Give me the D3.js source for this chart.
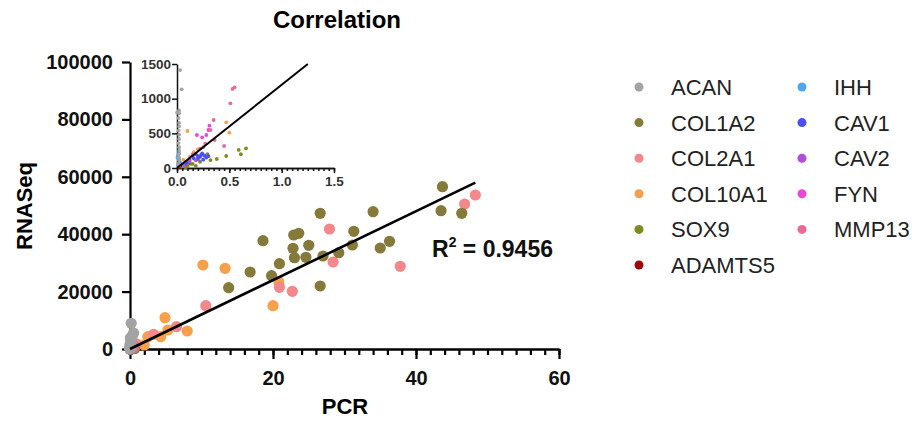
<!DOCTYPE html>
<html>
<head>
<meta charset="utf-8">
<script src="https://cdn.jsdelivr.net/npm/d3@7"></script>
<style>
  body { margin: 0; background: #fff; }
  text { font-family: "Liberation Sans", Arial, sans-serif; }
</style>
</head>
<body>
<svg id="chart" width="915" height="423"></svg>
<script>
// gene names and colours, legend order
var genes = ["ACAN", "COL1A2", "COL2A1", "COL10A1", "SOX9", "ADAMTS5", "IHH", "CAV1", "CAV2", "FYN", "MMP13"];
var colors = ["#a3a3a3", "#857a3a", "#f4878b", "#f7a04c", "#7f8a20", "#9b0a0a", "#4ea6f0", "#4b4ef0", "#b04fdc", "#e64ad8", "#e86a98"];

// [PCR, RNASeq] pairs
var acan = [[0.17, 8950], [0.5, 5570], [0.3, 4500], [0.05, 3830], [0.1, 2600], [0.02, 1800], [0.0, 800], [0.15, 2200],
    [0.03, 1413], [0.045, 1135], [0.02, 830], [0.02, 790], [0.015, 720], [0.02, 650], [0.02, 600], [0.015, 540],
    [0.02, 480], [0.02, 420], [0.015, 360], [0.02, 300], [0.02, 250], [0.015, 200], [0.02, 150], [0.02, 110], [0.01, 60], [0.02, 30]];
var col1a2 = [[43.7, 56550], [43.5, 48190], [46.4, 47280], [26.6, 47280], [34.0, 47840], [31.3, 41010], [31.1, 36240],
    [36.3, 37530], [35.0, 35190], [25.0, 36130], [24.6, 31950], [27.0, 32400], [29.2, 33550], [26.6, 21950],
    [23.6, 40310], [22.9, 39720], [22.8, 35090], [23.0, 31810], [18.6, 37740], [16.8, 26830], [13.8, 21360],
    [19.8, 25540], [20.9, 29720], [0.06, 40], [0.1, 20], [0.13, 60], [0.08, 10]];
var col2a1 = [[48.3, 53660], [46.8, 50520], [27.9, 41810], [28.4, 30310], [37.8, 28820], [20.9, 21500], [22.7, 20100],
    [10.6, 15090], [6.5, 7770], [3.3, 5120], [0.9, 1800], [0.12, 90], [0.2, 150]];
var col10a1 = [[10.2, 29270], [13.3, 28120], [20.0, 15090], [20.8, 23450], [4.9, 10900], [5.3, 6620], [8.0, 6270],
    [4.3, 4290], [2.5, 4290], [2.0, 1390], [0.10, 534], [0.47, 659], [0.50, 510], [0.16, 230], [0.2, 270],
    [0.06, 120], [0.12, 160], [0.09, 60]];
var sox9 = [[0.59, 260], [0.66, 284], [0.61, 198], [0.47, 173], [0.38, 130], [0.32, 115], [0.29, 200], [0.22, 90],
    [0.15, 60], [0.1, 40], [0.08, 20], [0.18, 30]];
var adamts5 = [[0.02, 10], [0.03, 25]];
var ihh = [[0.01, 180], [0.02, 120], [0.03, 80], [0.01, 40], [0.04, 20], [0.005, 150], [0.02, 210]];
var cav1 = [[0.15, 180], [0.18, 200], [0.2, 170], [0.22, 160], [0.24, 210], [0.26, 180], [0.28, 150], [0.3, 170],
    [0.12, 120], [0.16, 140], [0.2, 130], [0.25, 120], [0.1, 80], [0.08, 60], [0.23, 190]];
var cav2 = [[0.12, 100], [0.06, 40], [0.18, 110]];
var fyn = [[0.19, 476], [0.24, 443], [0.28, 476], [0.31, 610], [0.3, 548]];
var mmp13 = [[0.53, 1140], [0.55, 1164], [0.51, 933], [0.35, 692], [0.32, 548], [0.36, 404], [0.45, 317],
    [0.27, 350], [0.22, 280], [0.15, 200], [0.25, 300]];

var series = [acan, col1a2, col2a1, col10a1, sox9, adamts5, ihh, cav1, cav2, fyn, mmp13];
var drawOrder = [3, 2, 1, 4, 7, 8, 6, 9, 10, 5, 0];

// tick values
var xTicks = [0, 20, 40, 60];
var yTicks = [0, 20000, 40000, 60000, 80000, 100000];
var xInsetTicks = [0, 0.5, 1.0, 1.5];
var yInsetTicks = [0, 500, 1000, 1500];

var slope = 1200;      // fitted line
var fitEnd = 48.3;
var r2 = "0.9456";

var svg = d3.select("#chart");

var x = d3.scaleLinear().domain([0, 60]).range([130, 559]);
var y = d3.scaleLinear().domain([0, 100000]).range([349, 62]);
var xi = d3.scaleLinear().domain([0, 1.5]).range([177, 334]);
var yi = d3.scaleLinear().domain([0, 1500]).range([168, 64]);

// title + axis titles
svg.append("text").attr("x", 337).attr("y", 28).attr("text-anchor", "middle")
    .attr("font-size", 24).attr("font-weight", "bold").text("Correlation");
svg.append("text").attr("transform", "translate(32,206) rotate(-90)").attr("text-anchor", "middle")
    .attr("font-size", 22).attr("font-weight", "bold").text("RNASeq");
svg.append("text").attr("x", 345).attr("y", 414).attr("text-anchor", "middle")
    .attr("font-size", 22).attr("font-weight", "bold").text("PCR");

// main axes
var minorX = d3.range(0, 61, 2);
svg.append("g").attr("transform", "translate(0,349)")
    .call(d3.axisBottom(x).tickValues(minorX).tickSize(6).tickSizeOuter(0).tickFormat(""))
    .call(g => g.selectAll("line,path").attr("stroke", "#000").attr("stroke-width", 2.2));
svg.append("g").attr("transform", "translate(0,349)")
    .call(d3.axisBottom(x).tickValues(xTicks).tickSize(10).tickSizeOuter(0).tickPadding(12).tickFormat(d3.format("d")))
    .call(g => {
        g.selectAll("line,path").attr("stroke", "#000").attr("stroke-width", 2.2);
        g.selectAll("text").attr("font-size", 20).attr("font-weight", "bold").attr("fill", "#111")
            .attr("font-family", "Liberation Sans, Arial, sans-serif");
    });
svg.append("g").attr("transform", "translate(130,0)")
    .call(d3.axisLeft(y).tickValues(yTicks).tickSize(8).tickSizeOuter(0).tickPadding(9).tickFormat(d3.format("d")))
    .call(g => {
        g.selectAll("line,path").attr("stroke", "#000").attr("stroke-width", 2.2);
        g.selectAll("text").attr("font-size", 20).attr("font-weight", "bold").attr("fill", "#111")
            .attr("font-family", "Liberation Sans, Arial, sans-serif");
    });

// main points
var mainDots = svg.append("g");
drawOrder.forEach(function (k) {
    mainDots.selectAll(null).data(series[k]).enter().append("circle")
        .attr("cx", d => x(d[0])).attr("cy", d => y(d[1])).attr("r", 5.6)
        .attr("fill", colors[k]);
});

// main fit line
svg.append("line")
    .attr("x1", x(0)).attr("y1", y(0)).attr("x2", x(fitEnd)).attr("y2", y(slope * fitEnd))
    .attr("stroke", "#000").attr("stroke-width", 2.6);

// R squared
var rt = svg.append("text").attr("x", 432).attr("y", 257).attr("font-size", 23).attr("font-weight", "bold").attr("fill", "#111");
rt.append("tspan").text("R");
rt.append("tspan").attr("font-size", 14).attr("dy", -10).text("2");
rt.append("tspan").attr("dy", 10).text(" = " + r2);

// inset
var inset = svg.append("g");
inset.append("clipPath").attr("id", "insetClip").append("rect")
    .attr("x", 174).attr("y", 62).attr("width", 162).attr("height", 108);

var minorXi = d3.range(0, 31).map(d => d * 0.05);
inset.append("g").attr("transform", "translate(0,168)")
    .call(d3.axisBottom(xi).tickValues(minorXi).tickSize(3).tickSizeOuter(0).tickFormat(""))
    .call(g => g.selectAll("line,path").attr("stroke", "#111").attr("stroke-width", 1.5));
inset.append("g").attr("transform", "translate(0,168)")
    .call(d3.axisBottom(xi).tickValues(xInsetTicks).tickSize(5).tickSizeOuter(0).tickPadding(3).tickFormat(d3.format(".1f")))
    .call(g => {
        g.selectAll("line,path").attr("stroke", "#111").attr("stroke-width", 1.5);
        g.selectAll("text").attr("font-size", 13.5).attr("font-weight", "bold").attr("fill", "#333")
            .attr("font-family", "Liberation Sans, Arial, sans-serif");
    });
inset.append("g").attr("transform", "translate(177,0)")
    .call(d3.axisLeft(yi).tickValues(yInsetTicks).tickSize(5).tickSizeOuter(0).tickPadding(1).tickFormat(d3.format("d")))
    .call(g => {
        g.selectAll("line,path").attr("stroke", "#111").attr("stroke-width", 1.5);
        g.selectAll("text").attr("font-size", 13.5).attr("font-weight", "bold").attr("fill", "#333")
            .attr("font-family", "Liberation Sans, Arial, sans-serif");
    });

var insetDots = inset.append("g").attr("clip-path", "url(#insetClip)");
drawOrder.forEach(function (k) {
    var pts = series[k].filter(d => d[0] <= 1.5 && d[1] <= 1550);
    insetDots.selectAll(null).data(pts).enter().append("circle")
        .attr("cx", d => xi(d[0])).attr("cy", d => yi(d[1])).attr("r", 1.9)
        .attr("fill", colors[k]);
});
inset.append("line")
    .attr("x1", xi(0)).attr("y1", yi(0)).attr("x2", xi(1500 / slope)).attr("y2", yi(1500))
    .attr("stroke", "#000").attr("stroke-width", 2);

// legend, two columns
var legend = svg.append("g");
genes.forEach(function (name, i) {
    var col = i < 6 ? 0 : 1;
    var row = i < 6 ? i : i - 6;
    var lx = col == 0 ? 639 : 802;
    var ly = 87 + row * 35.6;
    legend.append("circle").attr("cx", lx).attr("cy", ly).attr("r", 4.5).attr("fill", colors[i]);
    legend.append("text").attr("x", lx + 32).attr("y", ly).attr("dy", "0.36em")
        .attr("font-size", 22).attr("fill", "#222").text(name);
});
</script>
</body>
</html>
